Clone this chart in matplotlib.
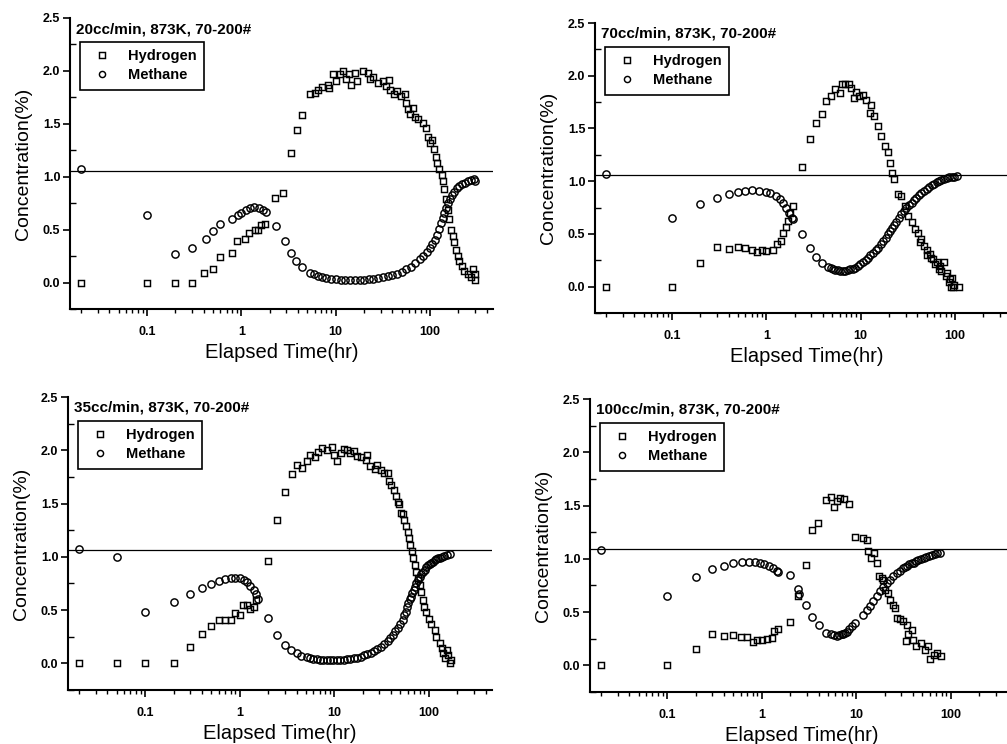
import matplotlib
matplotlib.use("Agg")
import matplotlib.pyplot as plt
from matplotlib.ticker import LogLocator, NullFormatter, MultipleLocator

plt.rcParams['font.family'] = ['Liberation Sans', 'DejaVu Sans']

# Panel labels (flow rate, temperature, particle size)
conditions = ["20cc/min, 873K, 70-200#", "70cc/min, 873K, 70-200#",
              "35cc/min, 873K, 70-200#", "100cc/min, 873K, 70-200#"]
# Feed-level reference line of each panel
ref_level = [1.05, 1.06, 1.065, 1.095]

xticks = [0.1, 1, 10, 100]
xtick_labels = ["0.1", "1", "10", "100"]
yticks = [0.0, 0.5, 1.0, 1.5, 2.0, 2.5]
ytick_labels = ["0.0", "0.5", "1.0", "1.5", "2.0", "2.5"]

# 20 cc/min
h20_t = [0.02, 0.1, 0.2, 0.3, 0.4, 0.5, 0.6, 0.8, 0.9, 1.1, 1.2, 1.4, 1.5, 1.6, 1.8,
         2.3, 2.8, 3.4, 3.9, 4.4, 5.3, 6, 6.5, 7.2, 8.3, 8.6, 9.4, 10, 11, 12, 13, 14,
         14.7, 16, 17, 19.5, 22, 23, 25, 28, 32, 34, 37, 38, 42, 45, 49, 54, 56, 58, 61,
         66, 69, 75, 84, 91, 95, 100, 106, 110, 115, 120, 126, 134, 138, 142, 148, 155,
         160, 168, 175, 182, 190, 197, 205, 219, 232, 252, 274, 285, 297, 300]
h20_c = [0, 0, 0, 0, 0.09, 0.13, 0.24, 0.28, 0.39, 0.41, 0.47, 0.50, 0.50, 0.54, 0.55,
         0.80, 0.85, 1.22, 1.44, 1.58, 1.78, 1.79, 1.82, 1.85, 1.87, 1.84, 1.97, 1.90, 1.97,
         2.0, 1.92, 1.97, 1.87, 1.98, 1.90, 2.0, 1.98, 1.92, 1.94, 1.89, 1.90, 1.86, 1.91,
         1.82, 1.78, 1.81, 1.76, 1.78, 1.70, 1.64, 1.59, 1.65, 1.56, 1.55, 1.51, 1.46, 1.38,
         1.32, 1.35, 1.26, 1.19, 1.13, 1.07, 1.02, 0.96, 0.88, 0.79, 0.69, 0.60, 0.50, 0.44,
         0.38, 0.31, 0.25, 0.20, 0.16, 0.11, 0.08, 0.05, 0.13, 0.02, 0.08]
m20_t = [0.02, 0.1, 0.2, 0.3, 0.42, 0.5, 0.6, 0.8, 0.92, 1.0, 1.13, 1.25, 1.38, 1.54, 1.7,
         1.84, 2.35, 2.9, 3.33, 3.8, 4.4, 5.3, 5.9, 6.5, 7.2, 8.0, 9.0, 10, 11.3, 12.7, 14.2,
         16, 18, 20, 22.5, 25, 28, 32, 36, 40, 45, 50, 56, 63, 70, 78, 85, 92, 100, 106, 112,
         118, 124, 130, 136, 142, 148, 155, 162, 170, 180, 192, 205, 220, 236, 252, 270, 290, 300]
m20_c = [1.075, 0.635, 0.27, 0.33, 0.41, 0.49, 0.55, 0.60, 0.635, 0.66, 0.685, 0.70, 0.71,
         0.70, 0.69, 0.67, 0.53, 0.39, 0.28, 0.20, 0.15, 0.09, 0.078, 0.065, 0.053, 0.045,
         0.037, 0.032, 0.028, 0.025, 0.023, 0.023, 0.024, 0.026, 0.03, 0.034, 0.04, 0.05,
         0.06, 0.072, 0.085, 0.10, 0.125, 0.15, 0.18, 0.22, 0.255, 0.29, 0.33, 0.365, 0.405,
         0.45, 0.51, 0.56, 0.61, 0.66, 0.705, 0.75, 0.79, 0.825, 0.86, 0.89, 0.91, 0.93,
         0.945, 0.96, 0.97, 0.975, 0.96]

# 70 cc/min
h70_t = [0.02, 0.1, 0.2, 0.3, 0.4, 0.5, 0.6, 0.7, 0.8, 0.9, 1.0, 1.18, 1.3, 1.42, 1.5, 1.6,
         1.7, 1.8, 1.9, 2.4, 2.9, 3.4, 3.9, 4.3, 4.9, 5.3, 6.0, 6.4, 6.9, 7.5, 7.9, 8.6, 9.0,
         9.7, 10.6, 11.5, 12.5, 13, 14, 15.3, 16.6, 18, 19.5, 20.4, 21.7, 22.5, 25, 27, 29.5,
         32, 34.7, 37.6, 41, 44, 47, 51, 54, 59, 64, 70, 72, 76, 82, 88, 93, 97, 110,
         43, 50, 56, 62, 68, 80, 86, 90, 95]
h70_c = [0, 0, 0.22, 0.375, 0.36, 0.38, 0.37, 0.35, 0.33, 0.35, 0.34, 0.35, 0.40, 0.43, 0.51,
         0.57, 0.62, 0.70, 0.76, 1.13, 1.40, 1.55, 1.64, 1.76, 1.81, 1.875, 1.84, 1.925, 1.925,
         1.92, 1.885, 1.79, 1.85, 1.805, 1.82, 1.77, 1.65, 1.72, 1.62, 1.52, 1.43, 1.33, 1.28,
         1.17, 1.08, 1.02, 0.88, 0.86, 0.76, 0.67, 0.61, 0.55, 0.51, 0.45, 0.385, 0.35, 0.31,
         0.26, 0.23, 0.195, 0.15, 0.23, 0.13, 0.07, 0.085, 0.02, 0,
         0.42, 0.30, 0.27, 0.21, 0.17, 0.10, 0.04, 0.0, 0.0]
m70_t = [0.02, 0.1, 0.2, 0.3, 0.4, 0.5, 0.6, 0.7, 0.83, 1.0, 1.1, 1.26, 1.39, 1.5, 1.63, 1.75,
         1.86, 1.92, 2.4, 2.9, 3.4, 3.9, 4.5, 4.8, 5.1, 5.4, 5.7, 6.1, 6.5, 6.9, 7.3, 7.8, 8.3,
         8.8, 9.3, 9.9, 10.6, 11.3, 12, 12.7, 13.5, 14.4, 15.3, 16.3, 17.3, 18.4, 19.5, 20.6,
         21.7, 22.8, 24, 25.5, 27, 28.8, 30.6, 32.6, 34.7, 36.8, 39, 41.5, 44, 47, 50, 53.5,
         57, 60.5, 64, 68, 72, 77, 82, 87, 93, 98, 105]
m70_c = [1.065, 0.65, 0.78, 0.84, 0.88, 0.90, 0.91, 0.915, 0.91, 0.90, 0.885, 0.86, 0.83,
         0.795, 0.75, 0.70, 0.65, 0.645, 0.50, 0.37, 0.28, 0.22, 0.185, 0.175, 0.165, 0.16,
         0.155, 0.152, 0.15, 0.153, 0.16, 0.165, 0.17, 0.18, 0.195, 0.21, 0.23, 0.25, 0.275,
         0.30, 0.32, 0.345, 0.37, 0.40, 0.43, 0.465, 0.50, 0.53, 0.56, 0.585, 0.61, 0.65,
         0.685, 0.72, 0.75, 0.775, 0.795, 0.82, 0.84, 0.865, 0.89, 0.91, 0.93, 0.945, 0.96,
         0.975, 0.99, 1.0, 1.015, 1.025, 1.03, 1.035, 1.04, 1.042, 1.045]

# 35 cc/min
h35_t = [0.02, 0.05, 0.1, 0.2, 0.3, 0.4, 0.5, 0.6, 0.7, 0.8, 0.9, 1.0, 1.08, 1.2, 1.3, 1.42,
         1.5, 2.0, 2.5, 3.0, 3.6, 4.05, 4.6, 5.1, 5.6, 6.25, 6.8, 7.5, 8.3, 9.4, 10, 10.7,
         11.8, 12.8, 13.7, 14.8, 16, 17.5, 19.3, 21.5, 22.3, 24, 26.8, 28.6, 31, 33.7, 36.6,
         38, 40, 42.5, 45, 47, 49, 51, 54, 55, 57.5, 60, 62.5, 64, 66, 68, 71, 73.5, 76.5,
         80, 83, 87, 90, 94, 100, 106, 116, 120, 131, 137, 142, 148, 154, 160, 168, 170]
h35_c = [0, 0, 0, 0, 0.15, 0.28, 0.355, 0.41, 0.41, 0.41, 0.475, 0.45, 0.55, 0.55, 0.51,
         0.525, 0.595, 0.96, 1.35, 1.61, 1.78, 1.86, 1.83, 1.90, 1.96, 1.94, 1.98, 2.02,
         2.005, 2.03, 1.96, 1.895, 1.975, 2.01, 2.005, 1.975, 1.99, 1.95, 1.94, 1.91, 1.96,
         1.85, 1.82, 1.86, 1.815, 1.785, 1.785, 1.71, 1.675, 1.63, 1.57, 1.51, 1.50, 1.415,
         1.40, 1.35, 1.285, 1.23, 1.175, 1.11, 1.05, 0.99, 0.925, 0.86, 0.80, 0.735, 0.67,
         0.595, 0.53, 0.485, 0.42, 0.37, 0.31, 0.25, 0.195, 0.14, 0.095, 0.047, 0.125, 0.08,
         0, 0.03]
m35_t = [0.02, 0.05, 0.1, 0.2, 0.3, 0.4, 0.5, 0.6, 0.7, 0.8, 0.9, 1.0, 1.1, 1.2, 1.3, 1.42,
         1.5, 1.55, 2.0, 2.5, 3.0, 3.5, 4.0, 4.5, 5.1, 5.5, 6.0, 6.5, 7.1, 7.7, 8.3, 9.0, 9.8,
         10.7, 11.6, 12.6, 13.6, 14.8, 16, 17.5, 19, 20.6, 22.4, 24.3, 26.3, 28.6, 31, 33.8,
         36.6, 39, 41.4, 44, 46.8, 50, 53, 55, 57.5, 59, 61, 63, 65, 67, 69.5, 71.5, 73.5,
         76.5, 80, 83.5, 87, 90.5, 94, 98, 102, 106, 111, 115, 120, 125, 131, 138, 146, 156, 168]
m35_c = [1.075, 1.00, 0.48, 0.575, 0.65, 0.705, 0.745, 0.775, 0.79, 0.805, 0.805, 0.80,
         0.78, 0.76, 0.73, 0.69, 0.65, 0.60, 0.43, 0.27, 0.17, 0.125, 0.094, 0.069, 0.056,
         0.05, 0.044, 0.038, 0.034, 0.032, 0.031, 0.031, 0.031, 0.03, 0.031, 0.034, 0.038,
         0.042, 0.047, 0.055, 0.063, 0.075, 0.088, 0.10, 0.116, 0.135, 0.157, 0.185, 0.213,
         0.24, 0.266, 0.30, 0.33, 0.37, 0.41, 0.45, 0.485, 0.525, 0.565, 0.60, 0.627, 0.66,
         0.69, 0.72, 0.75, 0.785, 0.815, 0.84, 0.86, 0.88, 0.90, 0.92, 0.935, 0.945, 0.955,
         0.967, 0.977, 0.985, 0.99, 1.0, 1.01, 1.02, 1.03]

# 100 cc/min
h100_t = [0.02, 0.1, 0.2, 0.3, 0.4, 0.5, 0.6, 0.7, 0.8, 0.9, 1.0, 1.15, 1.3, 1.35, 1.5, 2.0,
          2.45, 2.95, 3.4, 3.95, 4.75, 5.45, 5.8, 6.25, 6.7, 7.4, 8.4, 9.6, 11.7, 13, 13.4,
          14.5, 15.4, 16.5, 17.5, 18.6, 19.3, 20.2, 21.6, 22.8, 24.3, 25.8, 26.8, 29, 31.6,
          33.7, 34.2, 35.6, 38.7, 39.6, 43, 48, 53.5, 58, 60.6, 66, 71, 78]
h100_c = [0, 0.005, 0.155, 0.29, 0.28, 0.285, 0.27, 0.27, 0.22, 0.24, 0.24, 0.245, 0.255,
          0.32, 0.345, 0.405, 0.655, 0.945, 1.27, 1.335, 1.55, 1.58, 1.49, 1.545, 1.57, 1.56,
          1.51, 1.205, 1.195, 1.18, 1.07, 1.01, 1.055, 0.96, 0.835, 0.82, 0.80, 0.71, 0.68,
          0.615, 0.57, 0.54, 0.445, 0.435, 0.42, 0.225, 0.38, 0.29, 0.335, 0.24, 0.18, 0.21,
          0.147, 0.18, 0.06, 0.10, 0.12, 0.085]
m100_t = [0.02, 0.1, 0.2, 0.3, 0.4, 0.5, 0.62, 0.73, 0.84, 0.95, 1.07, 1.19, 1.31, 1.44, 1.5,
          1.97, 2.45, 2.5, 2.95, 3.4, 4.0, 4.8, 5.45, 5.8, 6.2, 6.6, 7.0, 7.3, 7.6, 8.0, 8.4,
          9.0, 9.8, 11.9, 12.9, 14, 15.2, 16.5, 17.9, 19.4, 21, 22.8, 24.7, 26.8, 29, 31.6,
          33, 34.8, 36.5, 38.8, 40.8, 43, 45.5, 48.3, 51.5, 55, 59, 63, 68, 72, 76]
m100_c = [1.085, 0.655, 0.83, 0.905, 0.935, 0.96, 0.97, 0.97, 0.967, 0.96, 0.95, 0.935,
          0.915, 0.89, 0.876, 0.85, 0.715, 0.67, 0.57, 0.455, 0.38, 0.30, 0.29, 0.285, 0.28,
          0.283, 0.29, 0.295, 0.30, 0.315, 0.34, 0.37, 0.40, 0.475, 0.52, 0.56, 0.605, 0.655,
          0.695, 0.74, 0.77, 0.80, 0.835, 0.865, 0.89, 0.915, 0.925, 0.935, 0.95, 0.96, 0.965,
          0.975, 0.99, 1.0, 1.005, 1.015, 1.03, 1.04, 1.045, 1.05, 1.055]

panels = [(h20_t, h20_c, m20_t, m20_c),
          (h70_t, h70_c, m70_t, m70_c),
          (h35_t, h35_c, m35_t, m35_c),
          (h100_t, h100_c, m100_t, m100_c)]

W, H = 1007, 744
# axes boxes in pixels: left, top, width, height
boxes = [(70, 18, 423, 291), (595, 23, 423, 290),
         (68, 397, 424, 293), (590, 399, 424, 293)]

fig = plt.figure(figsize=(W / 100, H / 100), dpi=100)

for i, (ht, hc, mt, mc) in enumerate(panels):
    l, t, w, h = boxes[i]
    ax = fig.add_axes([l / W, 1 - (t + h) / H, w / W, h / H])

    ax.axhline(ref_level[i], color='black', lw=0.9, zorder=1)
    ax.plot(ht, hc, ls='none', marker='s', ms=4.8, mfc='none', mec='black',
            mew=1.05, label='Hydrogen', zorder=3)
    ax.plot(mt, mc, ls='none', marker='o', ms=5.2, mfc='none', mec='black',
            mew=1.05, label='Methane', zorder=3)

    ax.set_xscale('log')
    ax.set_xlim(0.0153, 466)
    ax.set_ylim(-0.25, 2.5)

    ax.set_xticks(xticks, xtick_labels)
    ax.xaxis.set_minor_locator(LogLocator(base=10, subs=range(2, 10)))
    ax.xaxis.set_minor_formatter(NullFormatter())
    ax.set_yticks(yticks, ytick_labels)
    ax.yaxis.set_minor_locator(MultipleLocator(0.25))

    for side in ['top', 'right']:
        ax.spines[side].set_visible(False)
    for side in ['left', 'bottom']:
        ax.spines[side].set_linewidth(1.5)

    ax.tick_params(axis='x', which='major', direction='out', length=5, width=1.2,
                   pad=7, labelsize=9)
    ax.tick_params(axis='x', which='minor', direction='out', length=3, width=1.0)
    ax.tick_params(axis='y', which='major', direction='out', length=5, width=1.2,
                   pad=2, labelsize=9)
    ax.tick_params(axis='y', which='minor', direction='in', length=4, width=1.0)
    for lbl in ax.get_xticklabels() + ax.get_yticklabels():
        lbl.set_fontweight('bold')

    ax.set_xlabel('Elapsed Time(hr)', fontsize=14.5, labelpad=3.5)
    ax.set_ylabel('Concentration(%)', fontsize=14, labelpad=8)

    ax.annotate(conditions[i], xy=(0, 1), xycoords='axes fraction',
                xytext=(6, -4), textcoords='offset pixels', ha='left', va='top',
                fontsize=11, fontweight='bold')

    leg = ax.legend(loc='upper left', bbox_to_anchor=(10 / w, 1 - 24 / h),
                    prop={'size': 10.5, 'weight': 'bold'}, frameon=True,
                    fancybox=False, edgecolor='black', framealpha=1,
                    borderaxespad=0, handlelength=2.0, handletextpad=0.8,
                    borderpad=0.5, labelspacing=0.35, markerscale=0.85)
    leg.get_frame().set_linewidth(1.2)

fig.savefig('out.png', dpi=100)
